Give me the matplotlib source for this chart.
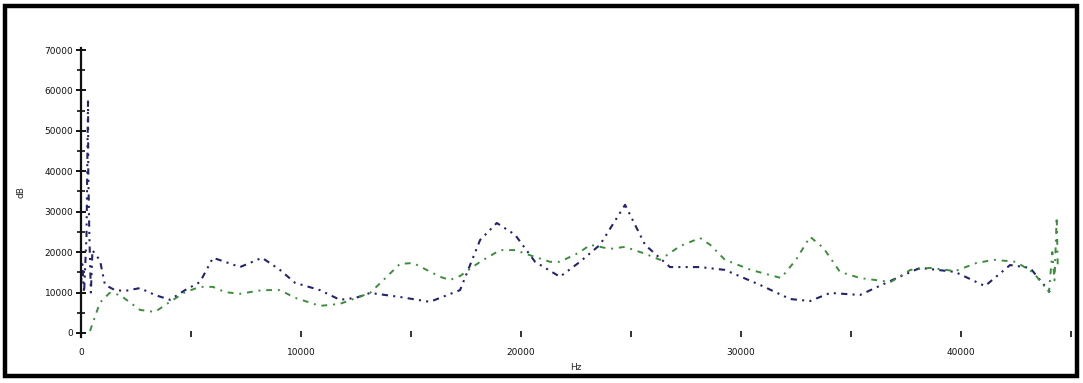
import matplotlib
matplotlib.use("Agg")
import matplotlib.pyplot as plt
from matplotlib.patches import Rectangle
from matplotlib.ticker import MultipleLocator

# ---- data ----
dark_x = [0, 60, 140, 250, 320, 330, 380, 450, 520, 640, 860, 1090, 1545, 2000, 2680,
          3360, 4045, 4730, 5410, 6000, 6545, 7230, 8230, 9045, 9730, 10860, 11770,
          12500, 13140, 14500, 15860, 17230, 18140, 18900, 19730, 20640, 21770, 22680,
          23590, 24730, 25640, 26770, 28140, 29270, 30860, 32230, 33140, 34050, 35410,
          37000, 38140, 39730, 41090, 42230, 43140, 44045]
dark_y = [12000, 17000, 10000, 24000, 58000, 40000, 24000, 10000, 20500, 19500, 18000,
          11900, 10600, 10400, 11100, 9400, 8200, 10600, 12600, 18600, 17600, 16300,
          18600, 15600, 12400, 10600, 8200, 8700, 9900, 8900, 7700, 10600, 23000, 27200,
          24300, 17600, 13900, 17600, 21800, 31700, 21800, 16300, 16300, 15600, 11900,
          8400, 7900, 9900, 9400, 13400, 16100, 15100, 11600, 16800, 16100, 10100]

green_x = [410, 860, 1300, 1770, 2680, 3360, 4045, 4730, 5410, 6000, 6545, 7230, 8230,
           9045, 9730, 10860, 11770, 13140, 14500, 15100, 16320, 16770, 17230, 18140,
           19050, 19730, 20640, 21320, 21770, 22680, 23140, 24050, 24730, 25640, 26320,
           27230, 28140, 28600, 29270, 30450, 31820, 32500, 33140, 33750, 34500, 35410,
           36800, 37700, 38600, 39730, 40700, 41500, 42500, 43300, 44000, 44150, 44250,
           44350, 44400]
green_y = [500, 7500, 9900, 9400, 5700, 5200, 7700, 10100, 11400, 11400, 10100, 9700,
           10600, 10600, 8700, 6700, 7200, 9900, 17100, 17300, 13900, 13100, 14100, 17600,
           20500, 20500, 18800, 17600, 17600, 20000, 21800, 20800, 21300, 19600, 18100,
           21500, 23500, 21800, 18100, 15600, 13600, 18100, 23800, 21000, 15100, 13600,
           12600, 15600, 16100, 15300, 17300, 18100, 17600, 14900, 10100, 20000, 13000,
           28700, 16000]

x_ticks = [0, 10000, 20000, 30000, 40000]
x_labels = ["0", "10000", "20000", "30000", "40000"]
y_ticks = [0, 10000, 20000, 30000, 40000, 50000, 60000, 70000]
y_labels = ["0", "10000", "20000", "30000", "40000", "50000", "60000", "70000"]

W, H = 1083, 383
fig = plt.figure(figsize=(W / 100, H / 100), dpi=100)
fig.patch.set_facecolor("white")

ax = fig.add_axes([81 / W, 1 - 337 / H, 990 / W, 289 / H])
ax.plot(dark_x, dark_y, color="#23236e", lw=1.5,
        linestyle=(0, (3, 2.5, 1, 2.5, 1, 2.5)))
ax.plot(green_x, green_y, color="#3c8c3c", lw=1.4,
        linestyle=(0, (3, 3, 1, 3)))

ax.set_xlim(0, 45000)
ax.set_ylim(-1000, 70500)

for s in ["top", "right", "bottom"]:
    ax.spines[s].set_visible(False)
ax.spines["left"].set_linewidth(1.6)
ax.spines["left"].set_color("#111111")

ax.set_yticks(y_ticks)
ax.set_yticklabels(y_labels)
ax.yaxis.set_minor_locator(MultipleLocator(5000))
ax.tick_params(axis="y", which="major", direction="inout", length=7, width=1.4,
               labelsize=6.5, pad=2, colors="#111111")
ax.tick_params(axis="y", which="minor", direction="inout", length=6, width=1.2,
               colors="#111111")

ax.set_xticks(x_ticks)
ax.set_xticklabels(x_labels)
ax.xaxis.set_minor_locator(MultipleLocator(5000))
ax.tick_params(axis="x", which="major", direction="in", length=4, width=1.2,
               labelsize=6.5, pad=8, colors="#111111")
ax.tick_params(axis="x", which="minor", direction="in", length=4, width=1.2,
               colors="#111111")

ax.set_xlabel("Hz", fontsize=6.5, labelpad=4, color="#222222")
ax.set_ylabel("dB", fontsize=6.5, labelpad=14, color="#222222")

# black frame around the figure
fig.patches.append(Rectangle((5 / W, 1 - 375.5 / H), 1071.5 / W, 369.5 / H,
                             transform=fig.transFigure, fill=False,
                             edgecolor="black", linewidth=3.2))

fig.savefig("out.png", dpi=100, facecolor="white")
